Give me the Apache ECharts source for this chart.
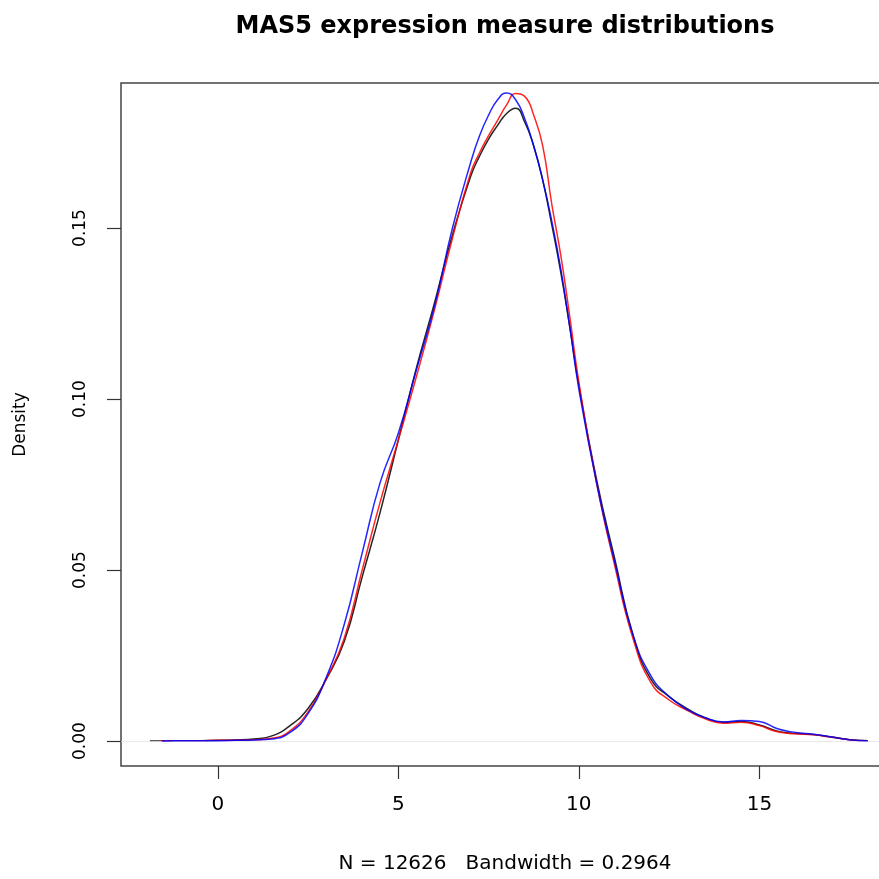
<!DOCTYPE html>
<html>
<head>
<meta charset="utf-8">
<script src="https://cdn.jsdelivr.net/npm/echarts@6/dist/echarts.min.js"></script>
<style>
html,body{margin:0;padding:0;background:#fff;}
#chart{width:879px;height:879px;}
</style>
</head>
<body>
<div id="chart"></div>
<script>
// ---- data ----
const titleText = 'MAS5 expression measure distributions';
const subText = 'N = 12626   Bandwidth = 0.2964';
const yName = 'Density';
const xTicks = [0, 5, 10, 15];
const yTicks = [0, 0.05, 0.10, 0.15];
const seriesNames = ['sample1', 'sample2', 'sample3'];
const seriesColors = ['#000000', '#ff0000', '#0000ff'];
const startX = [-1.88, -1.6, -1.55];
const gridX = [-1.5, -1, -0.5, 0, 0.5, 1, 1.5, 2, 2.5, 3, 3.5, 4, 4.5, 5, 5.5, 6, 6.5, 7, 7.25, 7.5, 7.75, 8, 8.25, 8.5, 8.75, 9, 9.25, 9.5, 9.75, 10, 10.5, 11, 11.5, 12, 12.5, 13, 13.5, 14, 14.5, 15, 15.5, 16, 16.5, 17, 17.5, 18];
const densBlack = [0.0000, 0.0001, 0.0001, 0.0002, 0.0003, 0.0006, 0.0015, 0.0045, 0.0095, 0.018, 0.029, 0.048, 0.067, 0.088, 0.109, 0.128, 0.148, 0.165, 0.171, 0.176, 0.180, 0.1835, 0.185, 0.181, 0.174, 0.164, 0.151, 0.137, 0.121, 0.104, 0.076, 0.053, 0.031, 0.018, 0.013, 0.0095, 0.0068, 0.0055, 0.0057, 0.0047, 0.0029, 0.0022, 0.0019, 0.0012, 0.0004, 0.0001];
const densRed = [0.0000, 0.0001, 0.0001, 0.0002, 0.0002, 0.0004, 0.0008, 0.003, 0.0085, 0.018, 0.030, 0.050, 0.070, 0.088, 0.1065, 0.126, 0.147, 0.166, 0.172, 0.177, 0.1815, 0.1860, 0.1893, 0.1885, 0.183, 0.174, 0.157, 0.142, 0.124, 0.105, 0.075, 0.051, 0.030, 0.017, 0.012, 0.009, 0.0065, 0.0052, 0.0055, 0.0045, 0.0027, 0.0021, 0.0018, 0.0011, 0.0004, 0.0001];
const densBlue = [0.0000, 0.0001, 0.0001, 0.0001, 0.0002, 0.0003, 0.0006, 0.0025, 0.008, 0.0185, 0.034, 0.055, 0.0757, 0.090, 0.1085, 0.127, 0.150, 0.169, 0.177, 0.183, 0.1875, 0.1895, 0.1875, 0.182, 0.174, 0.164, 0.152, 0.138, 0.121, 0.103, 0.075, 0.052, 0.031, 0.019, 0.013, 0.0092, 0.0068, 0.0056, 0.006, 0.0057, 0.0036, 0.0025, 0.002, 0.0012, 0.0004, 0.0001];
const densities = [densBlack, densRed, densBlue];

const FONT = 'DejaVu Sans';

function pairs(sx, ys) {
  const out = [[sx, 0]];
  for (let i = 0; i < gridX.length; i++) {
    if (gridX[i] > sx) out.push([gridX[i], ys[i]]);
  }
  return out;
}

const chart = echarts.init(document.getElementById('chart'), null, {renderer: 'canvas'});
const series = densities.map((d, i) => ({
  name: seriesNames[i],
  type: 'line',
  data: pairs(startX[i], d),
  smooth: 0.5,
  showSymbol: false,
  symbol: 'none',
  lineStyle: {color: seriesColors[i], width: 1.5, opacity: 0.85},
  z: 3 + i,
  animation: false,
  markLine: i === 0 ? {
    silent: true, symbol: 'none', label: {show: false},
    lineStyle: {color: '#e4e4e4', width: 0.8, type: 'solid'},
    data: [{yAxis: 0}]
  } : undefined
}));

chart.setOption({
  animation: false,
  backgroundColor: '#ffffff',
  graphic: [{
    type: 'text', x: 505, y: 27, z: 10,
    style: {text: titleText, font: 'bold 24px "' + FONT + '"', fill: '#000', align: 'center', verticalAlign: 'middle'}
  }],
  grid: {
    left: 121, top: 83, width: 768, height: 683, outerBoundsMode: 'none', containLabel: false,
    show: true, borderColor: '#444', borderWidth: 1.5, backgroundColor: 'transparent'
  },
  xAxis: {
    type: 'value', min: -2.68, max: 18.59,
    name: subText, nameLocation: 'middle', nameGap: 88,
    nameTextStyle: {fontFamily: FONT, fontSize: 20, color: '#000'},
    axisLine: {show: false, onZero: false},
    splitLine: {show: false},
    axisTick: {show: true, length: 13, customValues: xTicks, lineStyle: {color: '#333', width: 1.2}},
    axisLabel: {customValues: xTicks, margin: 29, fontFamily: FONT, fontSize: 20, color: '#000'}
  },
  yAxis: {
    type: 'value', min: -0.0073, max: 0.1924,
    name: yName, nameLocation: 'middle', nameGap: 92, nameRotate: 90,
    nameTextStyle: {fontFamily: FONT, fontSize: 17, color: '#000'},
    axisLine: {show: false, onZero: false},
    splitLine: {show: false},
    axisTick: {show: true, length: 14, customValues: yTicks, lineStyle: {color: '#333', width: 1.2}},
    axisLabel: {customValues: yTicks, rotate: 90, margin: 32, fontFamily: FONT, fontSize: 17, color: '#000',
      formatter: v => v.toFixed(2)}
  },
  series: series
});
</script>
</body>
</html>
